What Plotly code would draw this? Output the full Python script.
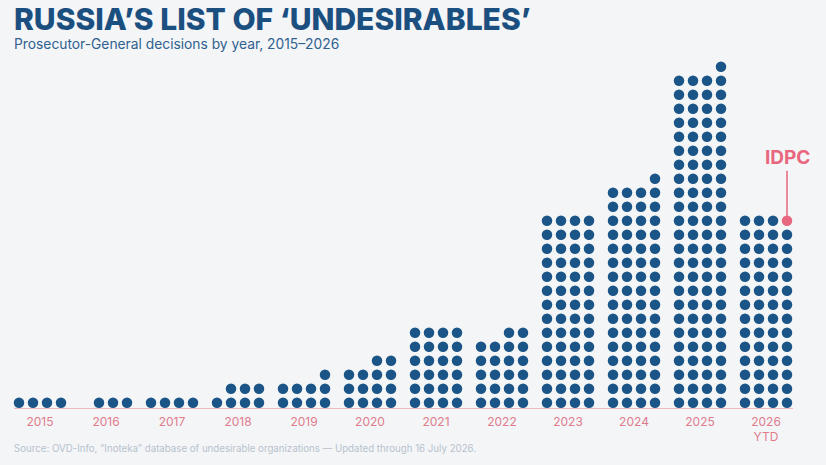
import plotly.graph_objects as go

years = ["2015", "2016", "2017", "2018", "2019", "2020", "2021", "2022", "2023", "2024", "2025", "2026"]
tick_labels = ["2015", "2016", "2017", "2018", "2019", "2020", "2021", "2022", "2023", "2024", "2025", "2026<br>YTD"]
decisions = [4, 3, 4, 7, 9, 14, 24, 22, 56, 65, 97, 56]

BLUE = "#1b5486"
PINK = "#e8677e"
PER_ROW = 4
COL_STEP = 14   # px between dots
GROUP_STEP = 66  # px between year groups

# build the dot grid: full rows from the bottom, partial row right-aligned on top
xs, ys, colors = [], [], []
for g, n in enumerate(decisions):
    full, rest = divmod(n, PER_ROW)
    for r in range(full):
        for c in range(PER_ROW):
            xs.append(g * GROUP_STEP + c * COL_STEP)
            ys.append(r)
            colors.append(BLUE)
    for c in range(PER_ROW - rest, PER_ROW):
        xs.append(g * GROUP_STEP + c * COL_STEP)
        ys.append(full)
        colors.append(BLUE)

# last organisation added in 2026 is IDPC
colors[-1] = PINK
idpc_x, idpc_y = xs[-1], ys[-1]

fig = go.Figure()
fig.add_trace(go.Scatter(
    x=xs, y=ys, mode="markers",
    marker=dict(size=10.5, color=colors, line=dict(width=0)),
    hoverinfo="skip", cliponaxis=False,
))

centers = [g * GROUP_STEP + 1.5 * COL_STEP for g in range(len(years))]

fig.update_layout(
    width=826, height=465,
    margin=dict(l=14, r=33, t=60, b=57),
    paper_bgcolor="#f4f5f7", plot_bgcolor="#f4f5f7",
    showlegend=False,
    font=dict(family="Inter, sans-serif"),
    xaxis=dict(
        range=[-5, 774], showgrid=False, zeroline=False,
        showline=True, linecolor="#f3b9c2", linewidth=1.2,
        tickmode="array", tickvals=centers, ticktext=tick_labels,
        ticks="", tickfont=dict(size=12, color="#e07b8c"),
        ticklabelstandoff=2,
    ),
    yaxis=dict(
        range=[-0.38, 24.48], showgrid=False, zeroline=False,
        showticklabels=False, showline=False,
    ),
)

fig.add_annotation(
    x=idpc_x, y=idpc_y, ax=0, ay=-63,
    text="<b>IDPC</b>", showarrow=True, arrowhead=0, arrowwidth=1.5,
    arrowcolor=PINK, standoff=4,
    font=dict(size=19, color=PINK),
)

fig.add_annotation(
    xref="paper", yref="paper", x=-0.003, y=1.118,
    xanchor="left", yanchor="middle", showarrow=False,
    text="RUSSIA’S LIST OF ‘UNDESIRABLES’",
    font=dict(size=30, color="#1b4f80", weight=800),
)
fig.add_annotation(
    xref="paper", yref="paper", x=-0.003, y=1.046,
    xanchor="left", yanchor="middle", showarrow=False,
    text="Prosecutor-General decisions by year, 2015–2026",
    font=dict(size=13.8, color="#2f6190"),
)
fig.add_annotation(
    xref="paper", yref="paper", x=-0.003, y=-0.115,
    xanchor="left", yanchor="middle", showarrow=False,
    text="Source: OVD-Info, “Inoteka” database of undesirable organizations — Updated through 16 July 2026.",
    font=dict(size=9.7, color="#b7c2ce"),
)

fig.write_html(
    "out.html",
    config={"displayModeBar": False},
    post_script="document.body.style.margin='0';document.body.style.background='#f4f5f7';",
)
